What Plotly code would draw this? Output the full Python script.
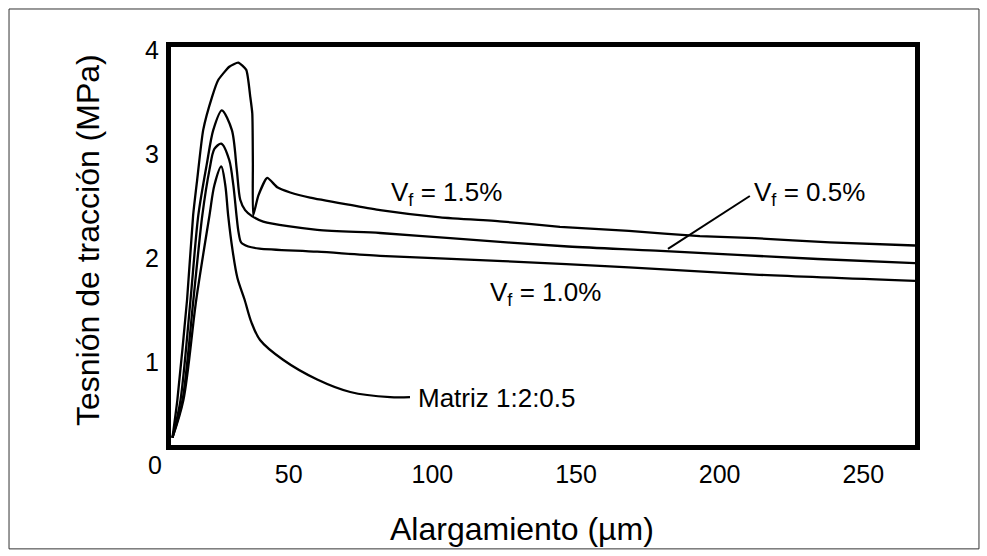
import plotly.graph_objects as go

# ---- data ----
x_vf15 = [9.5, 11.2, 14.6, 16.7, 18.1, 20.2, 23.3, 25.4, 29.3, 32.4, 35.2, 36.6, 37.3, 37.5, 37.6,
          39.4, 42.5, 46.0, 50.5, 57.4, 71.4, 81.8, 102.7, 124.6, 144.4, 168.4, 193.1, 212.3, 238.4, 268]
y_vf15 = [0.27, 0.63, 1.60, 2.41, 2.75, 3.23, 3.55, 3.71, 3.84, 3.88, 3.81, 3.55, 3.39, 2.91, 2.41,
          2.60, 2.77, 2.68, 2.63, 2.58, 2.51, 2.46, 2.39, 2.35, 2.30, 2.26, 2.21, 2.19, 2.15, 2.12]

x_vf05 = [9.5, 12.3, 15.8, 18.5, 21.5, 23.7, 26.7, 30.2, 31.9, 33.1, 34.8, 37.3, 41.1, 59.9, 81.8,
          106.2, 147.2, 177.8, 234.2, 268]
y_vf05 = [0.27, 0.63, 1.60, 2.41, 2.91, 3.23, 3.42, 3.23, 2.85, 2.56, 2.46, 2.40, 2.35, 2.27, 2.24,
          2.19, 2.11, 2.07, 1.99, 1.95]

x_vf10 = [9.5, 13.0, 16.8, 19.9, 22.4, 24.1, 26.5, 29.3, 30.7, 31.8, 32.5, 33.4, 35.9, 39.8, 59.9,
          81.8, 124.6, 168.4, 212.3, 268]
y_vf10 = [0.27, 0.63, 1.60, 2.41, 2.85, 3.05, 3.10, 2.94, 2.70, 2.41, 2.25, 2.15, 2.11, 2.09, 2.06,
          2.02, 1.97, 1.91, 1.84, 1.78]

x_matriz = [9.5, 13.3, 17.8, 22.4, 24.1, 26.5, 27.9, 28.9, 30.4, 32.1, 34.6, 37.0, 40.0, 48.0, 59.9,
            71.4, 85.3, 92.2]
y_matriz = [0.27, 0.63, 1.60, 2.41, 2.70, 2.88, 2.70, 2.41, 2.08, 1.81, 1.60, 1.38, 1.21, 1.02, 0.83,
            0.71, 0.66, 0.66]

x_ticks = [50, 100, 150, 200, 250]
y_ticks = [1, 2, 3, 4]

series_names = ["V<sub>f</sub> = 1.5%", "V<sub>f</sub> = 0.5%", "V<sub>f</sub> = 1.0%", "Matriz 1:2:0.5"]
label_x = [104.8, 231.4, 139.2, 94.3]
label_y = [2.62, 2.62, 1.66, 0.65]
pointer_x = [182.0, 210.5]
pointer_y = [2.087, 2.596]

FONT = "Liberation Sans, Arial, sans-serif"

fig = go.Figure()
for xs, ys, nm, sm in [(x_vf15, y_vf15, series_names[0], 0.5), (x_vf05, y_vf05, series_names[1], 0.8),
                       (x_vf10, y_vf10, series_names[2], 0.8), (x_matriz, y_matriz, series_names[3], 0.9)]:
    fig.add_trace(go.Scatter(x=xs, y=ys, mode="lines", name=nm,
                             line=dict(color="black", width=2.3, shape="spline", smoothing=sm),
                             showlegend=False, hoverinfo="skip"))

# curve labels
for i, (nm, lx, ly) in enumerate(zip(series_names, label_x, label_y)):
    fig.add_annotation(x=lx, y=ly, xref="x", yref="y", text=nm, showarrow=False,
                       xanchor="left" if i == 3 else "center", yanchor="middle",
                       font=dict(family=FONT, size=26, color="black"))

# pointer line for Vf = 0.5%
fig.add_shape(type="line", xref="x", yref="y", x0=pointer_x[0], y0=pointer_y[0],
              x1=pointer_x[1], y1=pointer_y[1], line=dict(color="black", width=2))

# corner "0" label
fig.add_annotation(x=-0.0215, y=-0.05, xref="paper", yref="paper", text="0", showarrow=False,
                   xanchor="center", yanchor="middle",
                   font=dict(family=FONT, size=25, color="black"))

# axis titles
fig.add_annotation(x=-0.1116, y=0.515, xref="paper", yref="paper", text="Tesnión de tracción (MPa)",
                   textangle=-90, showarrow=False, xanchor="center", yanchor="middle",
                   font=dict(family=FONT, size=32, color="black"))
fig.add_annotation(x=0.472, y=-0.211, xref="paper", yref="paper", text="Alargamiento (µm)",
                   showarrow=False, xanchor="center", yanchor="middle",
                   font=dict(family=FONT, size=32, color="black"))

# outer thin border
fig.add_shape(type="rect", xref="paper", yref="paper", x0=-0.2177, x1=1.086, y0=-0.261, y1=1.0955,
              line=dict(color="#333333", width=1), layer="below")

fig.update_layout(
    width=987, height=556,
    margin=dict(l=171, r=72, t=47, b=111),
    paper_bgcolor="white", plot_bgcolor="white",
    xaxis=dict(range=[9, 268], tickvals=x_ticks, ticktext=[str(v) for v in x_ticks],
               showgrid=False, zeroline=False, showline=True, linecolor="black", linewidth=5,
               mirror=True, ticks="outside", ticklen=3, tickcolor="rgba(0,0,0,0)",
               tickfont=dict(family=FONT, size=25, color="black")),
    yaxis=dict(range=[0.2, 4.03], tickvals=y_ticks, ticktext=[str(v) for v in y_ticks],
               showgrid=False, zeroline=False, showline=True, linecolor="black", linewidth=5,
               mirror=True, ticks="outside", ticklen=2, tickcolor="rgba(0,0,0,0)",
               tickfont=dict(family=FONT, size=25, color="black")),
)

fig.write_html("out.html", config={"displayModeBar": False},
               post_script="document.body.style.margin='0';")
